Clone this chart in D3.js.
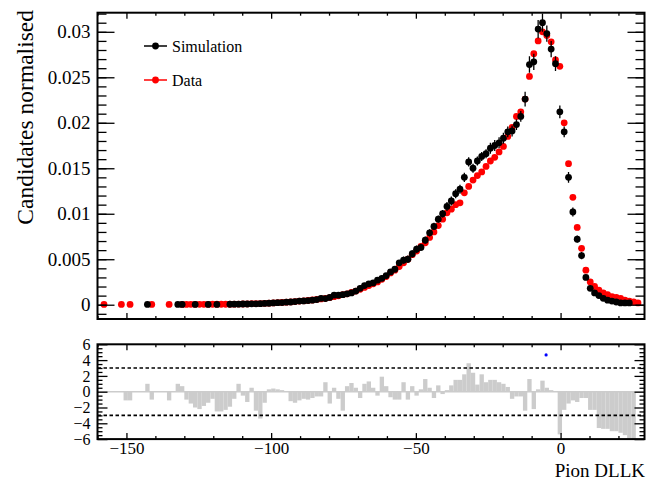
<!DOCTYPE html>
<html>
<head>
<meta charset="utf-8">
<script src="https://cdn.jsdelivr.net/npm/d3@7"></script>
<style>
body { margin: 0; background: #fff; }
text { font-family: "Liberation Serif", "Times New Roman", serif; fill: #000; }
</style>
</head>
<body>
<div id="viz"></div>
<script>
// histogram binning (Pion DLLK), 126 bins of 1.5 from -160
const binStart = -160, binWidth = 1.5, nBins = 126;
const xRange = [-160, 29];
const yRange = [-0.00157, 0.0321];
const pullRange = [-6, 6];

// Simulation (black), normalised
const simVals = [
  null,null,null,null,null,null,null,null,null,null,
  null,0.00003,null,null,null,null,null,null,0.00003,0.00003,
  null,null,0.00003,null,null,0.00003,null,0.00003,null,null,
  0.00005,0.00006,0.00006,0.00008,0.00008,0.0001,0.0001,0.00012,0.00014,0.00016,
  0.0002,0.00022,0.00024,0.00028,0.0003,0.00034,0.0004,0.00042,0.00045,0.0005,
  0.00056,0.0007,0.00068,0.0008,0.00105,0.00105,0.0011,0.0012,0.0013,0.0015,
  0.0018,0.0021,0.0023,0.0024,0.0027,0.0029,0.0032,0.0036,0.0039,0.0046,
  0.0049,0.0050,0.0056,0.0061,0.0063,0.0071,0.0079,0.0086,0.0094,0.0100,
  0.0108,0.0114,0.0122,0.0127,0.0140,0.0157,0.0150,0.0158,0.0163,0.0166,
  0.0172,0.0175,0.0178,0.0183,0.0190,0.0191,0.0198,0.0207,0.0226,0.0264,
  0.0267,0.0303,0.0310,0.0298,0.0281,0.0265,0.0212,0.0190,0.0140,0.0102,
  0.0072,0.0054,0.0030,0.0018,0.0013,0.0010,0.0007,0.0005,0.0004,0.0003,
  0.0002,0.0002,0.0002,null,null,null
];

const simErr = [
  0.0001,0.0001,0.0001,0.0001,0.0001,0.0001,0.0001,0.0001,0.0001,0.0001,
  0.0001,0.0001,0.0001,0.0001,0.0001,0.0001,0.0001,0.0001,0.0001,0.0001,
  0.0001,0.0001,0.0001,0.0001,0.0001,0.0001,0.0001,0.0001,0.0001,0.0001,
  0.0001,0.0001,0.0001,0.0001,0.0001,0.0001,0.0001,0.0001,0.0001,0.0001,
  0.0001,0.0001,0.0001,0.0001,0.0001,0.0001,0.0001,0.0001,0.0001,0.0001,
  0.0002,0.0002,0.0002,0.0002,0.0002,0.0002,0.0002,0.0002,0.0002,0.0002,
  0.0003,0.0003,0.0003,0.0003,0.0003,0.0003,0.0003,0.0003,0.0003,0.0003,
  0.0004,0.0004,0.0004,0.0004,0.0004,0.0004,0.0004,0.0004,0.0004,0.0004,
  0.0005,0.0005,0.0005,0.0005,0.0005,0.0005,0.0005,0.0005,0.0005,0.0005,
  0.0006,0.0006,0.0006,0.0006,0.0006,0.0006,0.0006,0.0006,0.0008,0.0009,
  0.0009,0.0010,0.0010,0.0009,0.0009,0.0008,0.0007,0.0006,0.0006,0.0005,
  0.0004,0.0004,0.0003,0.0003,0.0002,0.0002,0.0002,0.0002,0.0002,0.0002,
  0.0002,0.0002,0.0002,0.0002,0.0002,0.0002
];

// Data (red), normalised
const dataVals = [
  null,0.00003,null,null,null,0.00003,null,0.00003,null,null,
  null,null,0.00003,null,null,null,0.00003,null,null,0.00003,
  0.00003,0.00004,0.00004,0.00004,0.00004,0.00004,0.00005,0.00005,0.00005,0.00005,
  0.00005,0.00006,0.00007,0.00008,0.00009,0.00011,0.00012,0.00013,0.00015,0.00017,
  0.0002,0.00022,0.00025,0.00028,0.00031,0.00035,0.0004,0.00043,0.00047,0.00052,
  0.00058,0.00064,0.0007,0.00078,0.00088,0.00098,0.0011,0.0012,0.00135,0.0015,
  0.0017,0.0019,0.0021,0.0023,0.0025,0.0028,0.0031,0.0035,0.0038,0.0042,
  0.0046,0.0050,0.0055,0.0059,0.0064,0.0068,0.0074,0.0080,0.0087,0.0094,
  0.0101,0.0105,0.0110,0.0112,0.0123,0.0130,0.0137,0.0142,0.0146,0.0152,
  0.0158,0.0162,0.0168,0.0174,0.0185,0.0195,0.0207,0.0212,0.0226,0.0251,
  0.0276,0.0290,0.0300,0.0296,0.0289,0.0269,0.0262,0.0200,0.0155,0.0118,
  0.0085,0.0062,0.0038,0.0025,0.0020,0.0016,0.0013,0.0011,0.0009,0.0008,
  0.0007,0.0005,0.0004,0.0003,0.0002,null
];

// pull (Simulation - Data) / sigma per bin
const pullVals = [
  0,0,0,0,0,0,-1.1,-1.1,0,0,
  0,1.0,-1.0,0,0,0,-1.1,0,1.0,0.7,
  -1.0,-1.5,-2.0,-2.2,-1.8,-1.4,-0.9,-2.5,-2.5,-2.3,
  -1.9,-0.9,1.0,-0.5,-1.3,0.5,-2.4,-3.4,-1.4,0.3,
  0.4,0.3,0.2,0,-1.2,-1.4,-1.1,-0.9,-1.0,-0.8,
  -0.6,-0.6,1.2,-1.5,0.5,-0.9,-2.4,0.7,1.1,0.5,
  -0.8,1.0,1.3,0.5,-0.5,1.9,0.7,-0.7,-1.0,-1.0,
  1.2,-1.0,0.7,-0.5,0.3,1.6,0.5,-0.8,0.8,-0.3,
  0.2,0.8,1.5,1.5,2.2,3.6,2.4,0.9,2.2,1.2,
  1.5,1.5,1.2,1.0,0.6,-0.9,-0.6,-0.6,-2.4,1.6,
  -2.2,0.3,1.4,0.5,0.2,0,-5.4,-2.3,-1.5,-1.1,
  -1.3,-0.8,-0.8,-2.3,-2.3,-4.6,-4.7,-4.7,-5.0,-5.0,
  -5.2,-5.5,-5.9,-6.0,0,0
];
const pullMarker = [{x: -5.0, y: 4.65}];

const topYTicks = [0, 0.005, 0.01, 0.015, 0.02, 0.025, 0.03];
const xTicks = [-150, -100, -50, 0];
const pullTicks = [-6, -4, -2, 0, 2, 4, 6];
const pullLines = [-3, 3];

const legendItems = [
  {label: "Simulation", color: "#000"},
  {label: "Data", color: "#ff0000"}
];

const width = 646, height = 479;
const pTop = {x0: 97.5, x1: 644.5, y0: 12.7, y1: 319};
const pBot = {x0: 97.5, x1: 644.5, y0: 344.3, y1: 439.1};

const centers = d3.range(nBins).map(i => binStart + binWidth * (i + 0.5));
const bins = centers.map((c, i) => ({
  c: c, lo: c - binWidth / 2, hi: c + binWidth / 2,
  sim: simVals[i], err: simErr[i], dat: dataVals[i], pull: pullVals[i]
}));

let svg = d3.select("#viz").append("svg")
  .attr("width", width)
  .attr("height", height);

svg.append("rect").attr("width", width).attr("height", height).attr("fill", "#fff");

let x = d3.scaleLinear().domain(xRange).range([pTop.x0, pTop.x1]);
let y = d3.scaleLinear().domain(yRange).range([pTop.y1, pTop.y0]);
let yp = d3.scaleLinear().domain(pullRange).range([pBot.y1, pBot.y0]);

svg.append("clipPath").attr("id", "clipTop")
  .append("rect").attr("x", pTop.x0).attr("y", pTop.y0)
  .attr("width", pTop.x1 - pTop.x0).attr("height", pTop.y1 - pTop.y0);
svg.append("clipPath").attr("id", "clipBot")
  .append("rect").attr("x", pBot.x0).attr("y", pBot.y0)
  .attr("width", pBot.x1 - pBot.x0).attr("height", pBot.y1 - pBot.y0);

// ---------- top panel ----------
let plot = svg.append("g").attr("clip-path", "url(#clipTop)");

plot.append("g")
  .selectAll("circle")
  .data(bins.filter(d => d.dat !== null))
  .enter().append("circle")
  .attr("cx", d => x(d.c))
  .attr("cy", d => y(d.dat))
  .attr("r", 3.4)
  .attr("fill", "#ff0000");

plot.append("g")
  .selectAll("line")
  .data(bins.filter(d => d.sim !== null))
  .enter().append("line")
  .attr("x1", d => x(d.c)).attr("x2", d => x(d.c))
  .attr("y1", d => y(d.sim - d.err)).attr("y2", d => y(d.sim + d.err))
  .attr("stroke", "#000").attr("stroke-width", 1.3);

plot.append("g")
  .selectAll("circle")
  .data(bins.filter(d => d.sim !== null))
  .enter().append("circle")
  .attr("cx", d => x(d.c))
  .attr("cy", d => y(d.sim))
  .attr("r", 3.4)
  .attr("fill", "#000");

// ticks helper: majors + minors, pointing inside the frame
function ticks(g, axis, scale, majors, minors, majLen, minLen, fmt, pad, fontSize) {
  let a = g.append("g").call(axis(scale).tickValues(majors).tickSize(-majLen)
      .tickPadding(pad).tickFormat(fmt));
  a.select(".domain").remove();
  a.selectAll("line").attr("stroke", "#000").attr("stroke-width", 1.3);
  a.selectAll("text").style("font-size", fontSize + "px")
    .style("font-family", '"Liberation Serif", serif').attr("fill", "#000");
  let b = g.append("g").call(axis(scale).tickValues(minors).tickSize(-minLen).tickFormat(""));
  b.select(".domain").remove();
  b.selectAll("line").attr("stroke", "#000").attr("stroke-width", 1.3);
  return g;
}

const topYMinor = d3.range(-1, 33).map(k => k * 0.001).filter(v => v >= yRange[0] && v <= yRange[1]);
const xMinor = d3.range(-160, 30, 10).filter(v => xTicks.indexOf(v) < 0);
const pullMinor = d3.range(-6, 6.01, 0.5).filter(v => pullTicks.indexOf(v) < 0);
const noLab = () => "";

ticks(svg.append("g").attr("transform", `translate(${pTop.x0},0)`), d3.axisLeft, y,
  topYTicks, topYMinor, 17, 9, d3.format(""), 7, 19);
ticks(svg.append("g").attr("transform", `translate(${pTop.x1},0)`), d3.axisRight, y,
  topYTicks, topYMinor, 17, 9, noLab, 7, 19);
ticks(svg.append("g").attr("transform", `translate(0,${pTop.y1})`), d3.axisBottom, x,
  xTicks, xMinor, 6, 3, noLab, 4, 17);
ticks(svg.append("g").attr("transform", `translate(0,${pTop.y0})`), d3.axisTop, x,
  xTicks, xMinor, 6, 3, noLab, 4, 17);

svg.append("rect")
  .attr("x", pTop.x0).attr("y", pTop.y0)
  .attr("width", pTop.x1 - pTop.x0).attr("height", pTop.y1 - pTop.y0)
  .attr("fill", "none").attr("stroke", "#000").attr("stroke-width", 2);

svg.append("text")
  .attr("transform", "rotate(-90)")
  .attr("x", -10)
  .attr("y", 33)
  .attr("text-anchor", "end")
  .style("font-size", "23.5px")
  .text("Candidates normalised");

// legend
let leg = svg.append("g");
legendItems.forEach((d, i) => {
  let ly = 46 + i * 34;
  leg.append("line").attr("x1", 144).attr("x2", 167).attr("y1", ly).attr("y2", ly)
    .attr("stroke", d.color).attr("stroke-width", 1.5);
  leg.append("circle").attr("cx", 155.5).attr("cy", ly).attr("r", 3.4).attr("fill", d.color);
  leg.append("text").attr("x", 172).attr("y", ly + 5.5)
    .style("font-size", "16px").text(d.label);
});

// ---------- pull panel ----------
let pplot = svg.append("g").attr("clip-path", "url(#clipBot)");

pplot.append("line")
  .attr("x1", pBot.x0).attr("x2", pBot.x1)
  .attr("y1", yp(0)).attr("y2", yp(0))
  .attr("stroke", "#cccccc").attr("stroke-width", 1.5);

pplot.append("g")
  .selectAll("rect")
  .data(bins.filter(d => d.pull !== 0))
  .enter().append("rect")
  .attr("x", d => x(d.lo))
  .attr("width", d => x(d.hi) - x(d.lo))
  .attr("y", d => yp(Math.max(d.pull, 0)))
  .attr("height", d => Math.abs(yp(d.pull) - yp(0)))
  .attr("fill", "#cccccc");

pplot.append("g")
  .selectAll("line")
  .data(pullLines)
  .enter().append("line")
  .attr("x1", pBot.x0).attr("x2", pBot.x1)
  .attr("y1", d => yp(d)).attr("y2", d => yp(d))
  .attr("stroke", "#000").attr("stroke-width", 1.6)
  .attr("stroke-dasharray", "3.5,2.5");

pplot.selectAll(".mk")
  .data(pullMarker)
  .enter().append("circle")
  .attr("class", "mk")
  .attr("cx", d => x(d.x)).attr("cy", d => yp(d.y))
  .attr("r", 1.6).attr("fill", "#0000ff");

ticks(svg.append("g").attr("transform", `translate(${pBot.x0},0)`), d3.axisLeft, yp,
  pullTicks, pullMinor, 10, 5, d3.format(""), 7, 16);
ticks(svg.append("g").attr("transform", `translate(${pBot.x1},0)`), d3.axisRight, yp,
  pullTicks, pullMinor, 10, 5, noLab, 7, 16);
ticks(svg.append("g").attr("transform", `translate(0,${pBot.y1})`), d3.axisBottom, x,
  xTicks, xMinor, 6, 3, d3.format(""), 3, 17);
ticks(svg.append("g").attr("transform", `translate(0,${pBot.y0})`), d3.axisTop, x,
  xTicks, xMinor, 6, 3, noLab, 4, 17);

svg.append("rect")
  .attr("x", pBot.x0).attr("y", pBot.y0)
  .attr("width", pBot.x1 - pBot.x0).attr("height", pBot.y1 - pBot.y0)
  .attr("fill", "none").attr("stroke", "#000").attr("stroke-width", 2);

svg.append("text")
  .attr("x", 645)
  .attr("y", 476.5)
  .attr("text-anchor", "end")
  .style("font-size", "19px")
  .text("Pion DLLK");
</script>
</body>
</html>
